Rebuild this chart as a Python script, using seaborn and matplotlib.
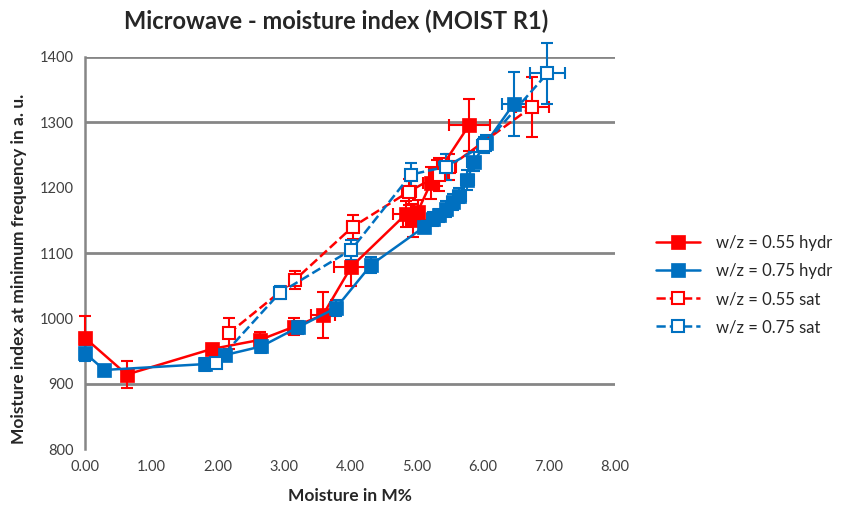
import seaborn as sns
import matplotlib.pyplot as plt
import numpy as np
import pandas as pd

# w/z = 0.55 hydr
r_hyd_x = [0.0, 0.63, 1.91, 2.64, 3.15, 3.59, 4.02, 4.85, 4.95, 5.02, 5.22, 5.32, 5.80]
r_hyd_y = [970, 914, 953, 967, 987, 1005, 1079, 1160, 1150, 1163, 1207, 1222, 1296]
r_hyd_xe = [0.02, 0.03, 0.05, 0.05, 0.06, 0.18, 0.26, 0.2, 0.15, 0.1, 0.12, 0.12, 0.31]
r_hyd_ye = [33, 20, 8, 12, 13, 35, 30, 20, 25, 18, 25, 20, 40]

# w/z = 0.75 hydr
b_hyd_x = [0.0, 0.29, 1.81, 2.12, 2.66, 3.21, 3.79, 4.32, 5.12, 5.25, 5.35, 5.45, 5.55, 5.65, 5.77, 5.87, 6.05, 6.47]
b_hyd_y = [947, 921, 930, 944, 957, 986, 1016, 1082, 1140, 1152, 1158, 1167, 1178, 1188, 1212, 1240, 1268, 1328]
b_hyd_xe = [0.02, 0.03, 0.04, 0.05, 0.05, 0.05, 0.06, 0.07, 0.08, 0.08, 0.08, 0.08, 0.08, 0.1, 0.1, 0.1, 0.1, 0.18]
b_hyd_ye = [12, 5, 10, 8, 10, 10, 12, 12, 10, 10, 10, 12, 12, 12, 15, 15, 12, 49]

# w/z = 0.55 sat
r_sat_x = [2.17, 3.17, 4.04, 4.89, 5.35, 5.50, 6.75]
r_sat_y = [977, 1059, 1140, 1194, 1220, 1232, 1324]
r_sat_xe = [0.04, 0.06, 0.08, 0.1, 0.12, 0.1, 0.25]
r_sat_ye = [24, 14, 18, 20, 25, 20, 46]

# w/z = 0.75 sat
b_sat_x = [1.98, 2.94, 4.02, 4.92, 5.45, 6.02, 6.98]
b_sat_y = [932, 1039, 1105, 1220, 1232, 1265, 1375]
b_sat_xe = [0.04, 0.05, 0.06, 0.08, 0.1, 0.1, 0.26]
b_sat_ye = [8, 10, 15, 18, 20, 12, 47]

RED = "#FF0000"
BLUE = "#0070C0"

series = [
    ("w/z = 0.55 hydr", r_hyd_x, r_hyd_y, r_hyd_xe, r_hyd_ye, RED, "-", True),
    ("w/z = 0.75 hydr", b_hyd_x, b_hyd_y, b_hyd_xe, b_hyd_ye, BLUE, "-", True),
    ("w/z = 0.55 sat", r_sat_x, r_sat_y, r_sat_xe, r_sat_ye, RED, "--", False),
    ("w/z = 0.75 sat", b_sat_x, b_sat_y, b_sat_xe, b_sat_ye, BLUE, "--", False),
]

sns.set_style("white")
plt.rcParams['font.family'] = ['Lato', 'DejaVu Sans']

fig = plt.figure(figsize=(8.5, 5.12), dpi=100)
ax = fig.add_axes([0.1, 0.123, 0.6235, 0.7657])

for name, xs, ys, xe, ye, col, ls, filled in series:
    df = pd.DataFrame({"x": xs, "y": ys})
    eb = ax.errorbar(xs, ys, xerr=xe, yerr=ye, fmt="none", ecolor=col,
                     elinewidth=1.5, capsize=4, capthick=1.5, zorder=3)
    for part in eb.get_children():
        part.set_clip_on(False)
    sns.lineplot(
        data=df, x="x", y="y", ax=ax, sort=False, estimator=None,
        color=col, linestyle=ls, linewidth=1.8, marker="s",
        markersize=10.5 if filled else 8.5,
        markerfacecolor=col if filled else "white",
        markeredgecolor=col, markeredgewidth=1.5 if not filled else 0.5,
        label=name, zorder=4, clip_on=False,
    )

ax.set_xlim(0, 8)
ax.set_ylim(800, 1400)
ax.set_xticks(np.arange(0, 9, 1))
ax.set_xticklabels([f"{v:.2f}" for v in range(9)])
ax.set_yticks(np.arange(800, 1401, 100))
ax.tick_params(axis="both", length=0, labelsize=10.5, labelcolor="#404040", pad=8)

# gridlines as they show in the picture
for yv in [900, 1100, 1300, 1400]:
    ax.axhline(yv, color="#868686", linewidth=2, zorder=1)

for s in ["top", "right", "bottom"]:
    ax.spines[s].set_visible(False)
ax.spines["left"].set_color("#868686")
ax.spines["left"].set_linewidth(1.8)

ax.set_xlabel("Moisture in M%", fontsize=12.5, fontweight="bold")
ax.xaxis.set_label_coords(0.5, -0.1)
ax.set_ylabel("Moisture index at minimum frequency in a. u.", fontsize=12.5,
              fontweight="bold")
ax.yaxis.set_label_coords(-0.11, 0.46)
fig.text(0.395, 0.958, "Microwave - moisture index (MOIST R1)", ha="center",
         va="center", fontsize=17, fontweight="bold")

ax.legend(loc="center left", bbox_to_anchor=(1.05, 0.418), frameon=False,
          fontsize=12, handlelength=2.6, labelspacing=0.72, handletextpad=1.0)

fig.savefig("out.png", dpi=100)
